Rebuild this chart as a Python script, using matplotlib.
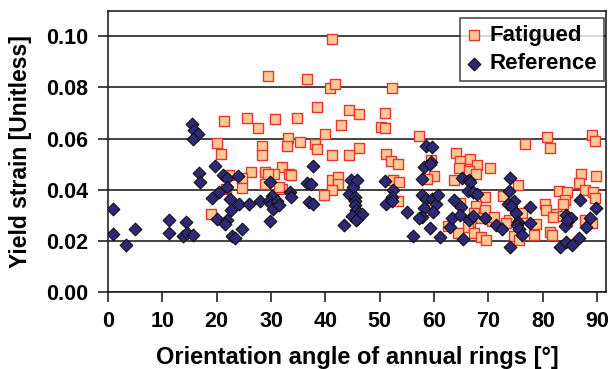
import matplotlib.pyplot as plt
import numpy as np

# Fatigued specimens: (angle [deg], yield strain)
fat_angle = [41.3, 29.5, 36.6, 40.8, 41.8, 52.3, 38.4, 44.3, 46.1, 50.9,
             21.3, 25.6, 30.8, 34.8, 42.8, 27.6, 50.3, 51.0, 57.2, 40.0,
             33.2, 35.3, 20.0, 80.8, 89.1, 89.6, 76.8, 38.0, 38.5, 28.4,
             28.4, 33.0, 46.1, 81.4, 20.7, 41.3, 44.3, 51.1, 52.0, 53.4,
             59.4, 64.1, 64.7, 66.6, 67.9, 70.3, 59.9, 58.7, 64.6, 66.4,
             67.7, 63.7, 52.5, 53.6, 41.2, 42.4, 42.4, 41.3, 39.7, 32.1,
             30.6, 28.8, 26.3, 29.4, 28.9, 33.3, 33.6, 22.2, 24.6, 24.6,
             32.0, 31.5, 21.7, 19.0, 53.3, 75.4, 87.0, 89.8, 86.7, 87.8,
             89.2, 89.6, 82.9, 84.4, 84.1, 83.7, 80.4, 80.6, 72.7, 69.4,
             67.7, 67.4, 69.3, 68.6, 66.6, 66.3, 67.4, 68.6, 69.6, 64.4,
             64.7, 70.7, 71.1, 73.7, 73.3, 74.7, 75.7, 76.1, 78.8, 78.3,
             81.4, 81.7, 82.4, 81.8, 84.4, 83.7, 87.8, 89.1, 59.3, 62.6]
fat_strain = [0.0991, 0.0844, 0.0831, 0.0799, 0.0812, 0.0797, 0.0722, 0.0712, 0.0695, 0.0699,
              0.0669, 0.0681, 0.0678, 0.0681, 0.0652, 0.0640, 0.0647, 0.0643, 0.0610, 0.0617,
              0.0604, 0.0588, 0.0584, 0.0607, 0.0612, 0.0591, 0.0578, 0.0577, 0.0561, 0.0569,
              0.0534, 0.0569, 0.0564, 0.0565, 0.0539, 0.0535, 0.0534, 0.0538, 0.0514, 0.0499,
              0.0516, 0.0543, 0.0513, 0.0521, 0.0496, 0.0483, 0.0452, 0.0442, 0.0484, 0.0475,
              0.0460, 0.0438, 0.0439, 0.0429, 0.0439, 0.0448, 0.0423, 0.0399, 0.0381, 0.0487,
              0.0462, 0.0471, 0.0469, 0.0462, 0.0423, 0.0461, 0.0457, 0.0457, 0.0445, 0.0405,
              0.0404, 0.0409, 0.0403, 0.0305, 0.0357, 0.0418, 0.0460, 0.0455, 0.0426, 0.0400,
              0.0390, 0.0368, 0.0394, 0.0391, 0.0361, 0.0345, 0.0344, 0.0322, 0.0375, 0.0371,
              0.0338, 0.0309, 0.0319, 0.0290, 0.0275, 0.0255, 0.0231, 0.0216, 0.0203, 0.0231,
              0.0348, 0.0277, 0.0292, 0.0283, 0.0270, 0.0218, 0.0203, 0.0309, 0.0264, 0.0221,
              0.0235, 0.0221, 0.0305, 0.0293, 0.0277, 0.0299, 0.0283, 0.0268, 0.0322, 0.0257]

# Reference specimens
ref_angle = [0.9, 0.9, 3.3, 5.0, 11.3, 11.3, 14.3, 13.8, 14.5, 15.6,
             15.4, 15.8, 16.6, 15.6, 16.7, 17.0, 19.7, 19.2, 20.1, 20.5,
             21.2, 21.9, 21.9, 22.5, 22.6, 21.9, 21.6, 22.8, 23.3, 24.0,
             24.1, 24.6, 26.0, 28.0, 29.8, 30.2, 29.6, 30.0, 30.4, 31.0,
             31.5, 29.8, 33.5, 33.6, 36.6, 37.3, 37.8, 36.9, 37.8, 43.4,
             44.3, 44.7, 45.0, 45.9, 45.4, 45.5, 45.5, 45.7, 46.2, 44.8,
             45.8, 46.7, 45.7, 51.0, 51.1, 52.5, 52.3, 52.3, 55.0, 56.2,
             57.7, 58.5, 59.7, 58.2, 59.5, 59.2, 57.7, 58.5, 59.6, 60.3,
             60.8, 58.1, 57.7, 57.3, 59.8, 59.2, 61.0, 63.0, 63.3, 63.7,
             64.9, 64.7, 65.3, 65.2, 66.4, 66.6, 66.2, 67.1, 67.8, 66.4,
             67.1, 69.3, 71.4, 72.4, 74.0, 73.8, 74.7, 73.6, 74.1, 75.0,
             75.5, 75.2, 75.7, 76.1, 74.0, 77.7, 77.6, 83.1, 84.3, 85.3,
             84.1, 84.2, 85.2, 86.8, 86.7, 87.9, 88.7, 89.8, 84.4]
ref_strain = [0.0326, 0.0226, 0.0184, 0.0247, 0.0283, 0.0229, 0.0274, 0.0218, 0.0231, 0.0221,
              0.0657, 0.0634, 0.0617, 0.0600, 0.0465, 0.0430, 0.0491, 0.0368, 0.0286, 0.0392,
              0.0458, 0.0445, 0.0409, 0.0365, 0.0321, 0.0281, 0.0264, 0.0219, 0.0212, 0.0453,
              0.0344, 0.0247, 0.0343, 0.0355, 0.0429, 0.0374, 0.0357, 0.0344, 0.0326, 0.0355,
              0.0339, 0.0278, 0.0391, 0.0371, 0.0425, 0.0421, 0.0492, 0.0352, 0.0343, 0.0262,
              0.0383, 0.0439, 0.0410, 0.0436, 0.0371, 0.0357, 0.0342, 0.0322, 0.0309, 0.0297,
              0.0287, 0.0304, 0.0281, 0.0435, 0.0343, 0.0397, 0.0370, 0.0355, 0.0314, 0.0218,
              0.0440, 0.0569, 0.0568, 0.0488, 0.0510, 0.0500, 0.0378, 0.0365, 0.0364, 0.0345,
              0.0381, 0.0327, 0.0295, 0.0290, 0.0314, 0.0251, 0.0214, 0.0255, 0.0290, 0.0360,
              0.0332, 0.0300, 0.0208, 0.0444, 0.0436, 0.0429, 0.0394, 0.0390, 0.0384, 0.0283,
              0.0299, 0.0290, 0.0261, 0.0248, 0.0444, 0.0396, 0.0357, 0.0345, 0.0338, 0.0309,
              0.0274, 0.0262, 0.0247, 0.0221, 0.0177, 0.0331, 0.0270, 0.0177, 0.0195, 0.0182,
              0.0257, 0.0303, 0.0288, 0.0360, 0.0210, 0.0255, 0.0290, 0.0329, 0.0282]

x_ticks = np.arange(0, 91, 10)
y_ticks = np.arange(0, 0.101, 0.02)

plt.rcParams['font.family'] = ['Liberation Sans', 'DejaVu Sans']
plt.rcParams['font.weight'] = 'bold'

fig = plt.figure(figsize=(6.12, 3.69), dpi=100)
ax = fig.add_axes([0.1765, 0.2087, 0.8135, 0.7623])

ax.scatter(fat_angle, fat_strain, marker='s', s=50, facecolor='#ffc896',
           edgecolor='#e8362a', linewidth=1.0, label='Fatigued', zorder=3)
ax.scatter(ref_angle, ref_strain, marker='D', s=42, facecolor='#2e2878',
           edgecolor='#111111', linewidth=0.8, label='Reference', zorder=4)

ax.set_xlim(0, 91.6)
ax.set_ylim(0, 0.11)
ax.set_xticks(x_ticks)
ax.set_yticks(y_ticks)
ax.set_yticklabels([f'{v:.2f}' for v in y_ticks])
ax.grid(axis='y', color='#222222', linewidth=1.2, zorder=1)
ax.set_axisbelow(True)

for s in ax.spines.values():
    s.set_color('#222222')
    s.set_linewidth(1.2)
ax.tick_params(direction='out', length=7, width=1.2, labelsize=15.5, color='#222222')
ax.tick_params(axis='x', pad=7)
ax.tick_params(axis='y', pad=7)

ax.set_xlabel('Orientation angle of annual rings [°]', fontsize=17, fontweight='bold', labelpad=10)
ax.set_ylabel('Yield strain [Unitless]', fontsize=16.5, fontweight='bold')
ax.yaxis.set_label_coords(-0.153, 0.5)

leg = ax.legend(loc='upper right', bbox_to_anchor=(0.996, 0.974), borderaxespad=0,
                fontsize=16, frameon=True, fancybox=False, edgecolor='#222222',
                handletextpad=0.35, borderpad=0.3, handlelength=0.7, labelspacing=0.35)
leg.get_frame().set_linewidth(1.2)

fig.savefig('out.png', dpi=100)
